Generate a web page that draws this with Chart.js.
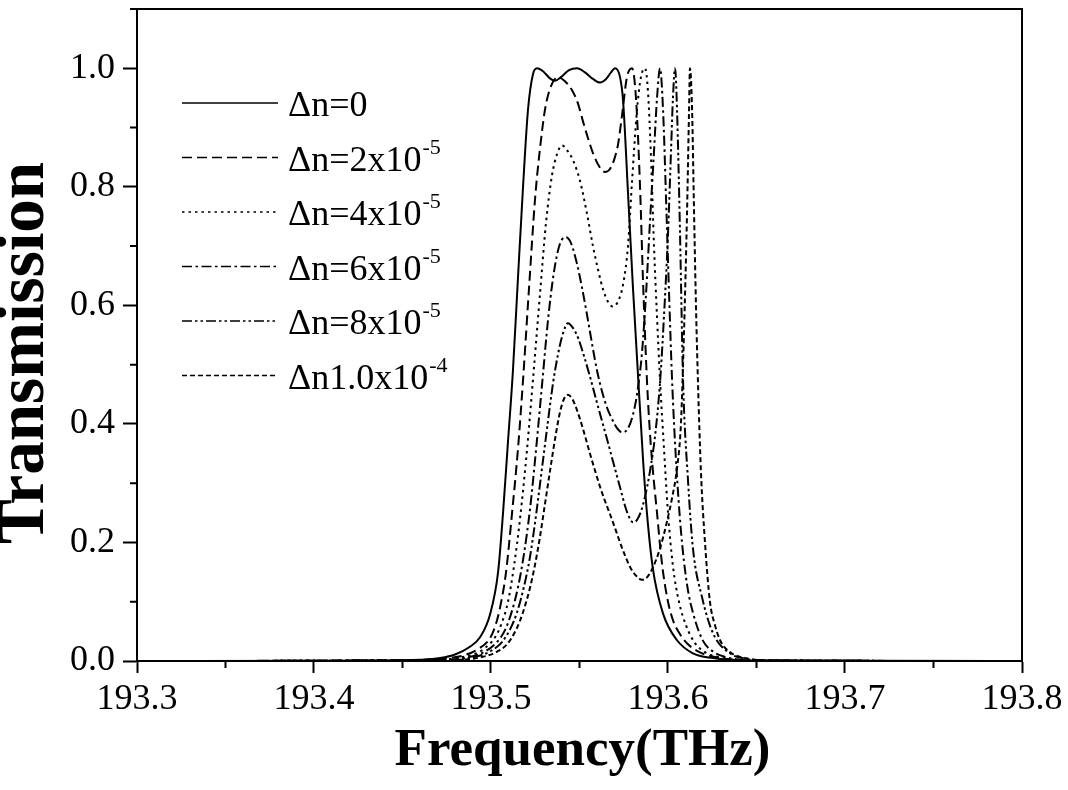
<!DOCTYPE html>
<html>
<head>
<meta charset="utf-8">
<script src="https://cdn.jsdelivr.net/npm/chart.js@4.4.0/dist/chart.umd.min.js"></script>
<style>
  html, body { margin: 0; padding: 0; background: #fff; }
  #wrap { width: 1068px; height: 790px; }
</style>
</head>
<body>
<div id="wrap"><canvas id="chart" width="1068" height="790"></canvas></div>
<script>
// Transmission curves: [frequency (THz), transmission]
const dn0 = [
    [193.30, 0], [193.44, 0.0005], [193.4599, 0.002], [193.4712, 0.005], [193.4797, 0.011],
    [193.4881, 0.024], [193.4938, 0.04], [193.4994, 0.078], [193.5040, 0.15], [193.5068, 0.25],
    [193.5096, 0.37], [193.5124, 0.49], [193.5153, 0.65], [193.5181, 0.80], [193.5209, 0.93],
    [193.5237, 0.99], [193.5260, 1.0], [193.5294, 0.995], [193.5333, 0.983], [193.5362, 0.979],
    [193.5395, 0.985], [193.5441, 0.997], [193.5486, 1.0], [193.5531, 0.993], [193.5576, 0.982],
    [193.5616, 0.976], [193.5650, 0.982], [193.5678, 0.993], [193.5701, 1.0], [193.5729, 0.985],
    [193.5746, 0.946], [193.5774, 0.79], [193.5802, 0.63], [193.5831, 0.48], [193.5859, 0.34],
    [193.5881, 0.25], [193.5915, 0.155], [193.5972, 0.08], [193.6051, 0.035], [193.6141, 0.013],
    [193.6254, 0.005], [193.6407, 0.001], [193.80, 0]
];
const dn2 = [
    [193.30, 0], [193.4655, 0.002], [193.4768, 0.005], [193.4853, 0.01], [193.4927, 0.02],
    [193.4989, 0.036], [193.5023, 0.058], [193.5051, 0.09], [193.5085, 0.15], [193.5119, 0.25],
    [193.5153, 0.36], [193.5181, 0.474], [193.5215, 0.63], [193.5249, 0.78], [193.5277, 0.865],
    [193.5305, 0.93], [193.5333, 0.965], [193.5379, 0.985], [193.5418, 0.978], [193.5458, 0.963],
    [193.5492, 0.94], [193.5520, 0.91], [193.5548, 0.882], [193.5576, 0.857], [193.5610, 0.835],
    [193.5644, 0.825], [193.5672, 0.83], [193.5695, 0.845], [193.5718, 0.872], [193.5740, 0.92],
    [193.5768, 0.985], [193.5797, 1.0], [193.5819, 0.95], [193.5842, 0.80], [193.5859, 0.64],
    [193.5881, 0.474], [193.5898, 0.385], [193.5915, 0.32], [193.5938, 0.25], [193.5955, 0.195],
    [193.5972, 0.15], [193.6000, 0.10], [193.6028, 0.069], [193.6068, 0.045], [193.6107, 0.03],
    [193.6164, 0.017], [193.6220, 0.01], [193.6322, 0.004], [193.6463, 0.001], [193.80, 0]
];
const dn4 = [
    [193.30, 0], [193.4712, 0.002], [193.4825, 0.006], [193.4910, 0.012], [193.4966, 0.022],
    [193.5023, 0.04], [193.5062, 0.065], [193.5096, 0.10], [193.5130, 0.16], [193.5164, 0.24],
    [193.5203, 0.355], [193.5237, 0.474], [193.5277, 0.62], [193.5311, 0.74], [193.5345, 0.82],
    [193.5373, 0.855], [193.5401, 0.87], [193.5429, 0.862], [193.5463, 0.845], [193.5503, 0.81],
    [193.5542, 0.755], [193.5576, 0.70], [193.5605, 0.66], [193.5633, 0.627], [193.5661, 0.606],
    [193.5689, 0.598], [193.5718, 0.607], [193.5746, 0.635], [193.5774, 0.70], [193.5797, 0.81],
    [193.5825, 0.93], [193.5847, 0.985], [193.5870, 1.0], [193.5887, 0.96], [193.5904, 0.85],
    [193.5921, 0.70], [193.5938, 0.58], [193.5955, 0.474], [193.5977, 0.36], [193.6000, 0.25],
    [193.6028, 0.16], [193.6062, 0.10], [193.6102, 0.06], [193.6153, 0.03], [193.6209, 0.015],
    [193.6294, 0.006], [193.6435, 0.001], [193.80, 0]
];
const dn6 = [
    [193.30, 0], [193.4768, 0.002], [193.4881, 0.007], [193.4966, 0.016], [193.5034, 0.032],
    [193.5079, 0.052], [193.5119, 0.085], [193.5153, 0.125], [193.5186, 0.18], [193.5220, 0.255],
    [193.5254, 0.355], [193.5288, 0.465], [193.5322, 0.575], [193.5350, 0.645], [193.5379, 0.693],
    [193.5401, 0.711], [193.5424, 0.715], [193.5452, 0.705], [193.5486, 0.67], [193.5514, 0.63],
    [193.5542, 0.585], [193.5571, 0.535], [193.5599, 0.49], [193.5627, 0.455], [193.5655, 0.428],
    [193.5684, 0.408], [193.5712, 0.393], [193.5740, 0.386], [193.5768, 0.39], [193.5797, 0.41],
    [193.5825, 0.45], [193.5853, 0.52], [193.5876, 0.62], [193.5898, 0.74], [193.5921, 0.86],
    [193.5938, 0.95], [193.5955, 1.0], [193.5972, 0.93], [193.5989, 0.78], [193.6006, 0.62],
    [193.6023, 0.474], [193.6045, 0.34], [193.6073, 0.22], [193.6107, 0.13], [193.6147, 0.075],
    [193.6198, 0.034], [193.6254, 0.016], [193.6322, 0.007], [193.6463, 0.001], [193.80, 0]
];
const dn8 = [
    [193.30, 0], [193.4797, 0.002], [193.4910, 0.007], [193.4994, 0.016], [193.5062, 0.032],
    [193.5107, 0.053], [193.5147, 0.082], [193.5186, 0.125], [193.5220, 0.175], [193.5254, 0.245],
    [193.5288, 0.325], [193.5322, 0.405], [193.5350, 0.468], [193.5379, 0.518], [193.5407, 0.553],
    [193.5435, 0.57], [193.5463, 0.562], [193.5492, 0.545], [193.5525, 0.515], [193.5559, 0.48],
    [193.5593, 0.442], [193.5627, 0.405], [193.5655, 0.375], [193.5689, 0.337], [193.5729, 0.293],
    [193.5757, 0.262], [193.5780, 0.243], [193.5802, 0.234], [193.5825, 0.238], [193.5847, 0.252],
    [193.5870, 0.277], [193.5898, 0.32], [193.5927, 0.38], [193.5955, 0.47], [193.5977, 0.58],
    [193.6000, 0.72], [193.6017, 0.86], [193.6028, 0.95], [193.6040, 1.0], [193.6051, 0.93],
    [193.6068, 0.72], [193.6085, 0.474], [193.6113, 0.305], [193.6141, 0.19], [193.6192, 0.108],
    [193.6254, 0.047], [193.6350, 0.013], [193.6463, 0.003], [193.6576, 0.001], [193.80, 0]
];
const dn10 = [
    [193.30, 0], [193.4825, 0.002], [193.4938, 0.006], [193.5023, 0.014], [193.5090, 0.028],
    [193.5130, 0.046], [193.5164, 0.068], [193.5192, 0.093], [193.5220, 0.123], [193.5249, 0.163],
    [193.5277, 0.21], [193.5305, 0.265], [193.5333, 0.32], [193.5362, 0.375], [193.5390, 0.42],
    [193.5412, 0.442], [193.5435, 0.449], [193.5463, 0.44], [193.5503, 0.408], [193.5531, 0.38],
    [193.5559, 0.35], [193.5588, 0.321], [193.5616, 0.294], [193.5644, 0.27], [193.5672, 0.248],
    [193.5701, 0.224], [193.5729, 0.2], [193.5757, 0.178], [193.5785, 0.159], [193.5819, 0.144],
    [193.5853, 0.137], [193.5881, 0.141], [193.5915, 0.158], [193.5955, 0.19], [193.5994, 0.235],
    [193.6023, 0.275], [193.6051, 0.325], [193.6073, 0.40], [193.6090, 0.55], [193.6107, 0.75],
    [193.6119, 0.93], [193.6124, 1.0], [193.6136, 0.93], [193.6147, 0.76], [193.6158, 0.6],
    [193.6169, 0.474], [193.6186, 0.32], [193.6209, 0.2], [193.6237, 0.1], [193.6266, 0.06],
    [193.6294, 0.035], [193.6350, 0.015], [193.6435, 0.005], [193.6576, 0.001], [193.80, 0]
];

const seriesNames = ['Δn=0', 'Δn=2x10', 'Δn=4x10', 'Δn=6x10', 'Δn=8x10', 'Δn1.0x10'];
const seriesExponents = ['', '-5', '-5', '-5', '-5', '-4'];

const serif = '"Liberation Serif", "Times New Roman", serif';

function toPoints(rows) {
    return rows.map(([x, y]) => ({ x: x, y: y }));
}

function makeDataset(i, rows, dash) {
    return {
        label: seriesNames[i] + seriesExponents[i],
        data: toPoints(rows),
        borderColor: '#000',
        borderWidth: 2,
        borderDash: dash,
        pointRadius: 0,
        fill: false,
        cubicInterpolationMode: 'monotone',
        showLine: true
    };
}

// frame, minor ticks, axis titles and the legend with superscripts
const decorPlugin = {
    id: 'decor',
    afterDraw(chart) {
        const ctx = chart.ctx;
        const area = chart.chartArea;
        const xs = chart.scales.x;
        const ys = chart.scales.y;
        ctx.save();
        ctx.strokeStyle = '#000';
        ctx.lineWidth = 2;
        ctx.setLineDash([]);
        ctx.beginPath();
        ctx.moveTo(area.left, area.top);
        ctx.lineTo(area.right, area.top);
        ctx.lineTo(area.right, area.bottom);
        ctx.stroke();

        // minor ticks halfway between the major ones
        const xt = xs.ticks.map(t => t.value);
        ctx.beginPath();
        for (let i = 0; i < xt.length - 1; i++) {
            const px = xs.getPixelForValue((xt[i] + xt[i + 1]) / 2);
            ctx.moveTo(px, area.bottom);
            ctx.lineTo(px, area.bottom + 7);
        }
        const yt = ys.ticks.map(t => t.value);
        const step = yt[1] - yt[0];
        for (let v = yt[0] + step / 2; v <= ys.max + 1e-9; v += step) {
            const py = ys.getPixelForValue(v);
            ctx.moveTo(area.left, py);
            ctx.lineTo(area.left - 7, py);
        }
        ctx.stroke();

        // axis titles
        ctx.fillStyle = '#000';
        ctx.font = 'bold 53px ' + serif;
        ctx.textAlign = 'center';
        ctx.textBaseline = 'alphabetic';
        ctx.fillText('Frequency(THz)', (area.left + area.right) / 2 + 3, 765);
        ctx.save();
        ctx.translate(43, (area.top + area.bottom) / 2 + 18);
        ctx.rotate(-Math.PI / 2);
        ctx.font = 'bold 67px ' + serif;
        ctx.fillText('Transmission', 0, 0);
        ctx.restore();

        // legend
        chart.data.datasets.forEach((ds, i) => {
            const y = 103 + i * 54.5;
            ctx.beginPath();
            ctx.lineWidth = 1.5;
            ctx.setLineDash(ds.borderDash || []);
            ctx.moveTo(182, y);
            ctx.lineTo(278, y);
            ctx.stroke();
            ctx.setLineDash([]);
            ctx.textAlign = 'left';
            ctx.font = '36px ' + serif;
            ctx.fillText(seriesNames[i], 288, y + 13);
            if (seriesExponents[i]) {
                const w = ctx.measureText(seriesNames[i]).width;
                ctx.font = '22px ' + serif;
                ctx.fillText(seriesExponents[i], 288 + w + 1, y - 4);
            }
        });
        ctx.restore();
    }
};

new Chart(document.getElementById('chart'), {
    type: 'scatter',
    data: {
        datasets: [
            makeDataset(0, dn0, []),
            makeDataset(1, dn2, [10, 5]),
            makeDataset(2, dn4, [2.5, 4]),
            makeDataset(3, dn6, [10, 3.5, 2.5, 3.5]),
            makeDataset(4, dn8, [10, 3, 2.5, 3, 2.5, 3]),
            makeDataset(5, dn10, [5, 3])
        ]
    },
    options: {
        responsive: false,
        animation: false,
        devicePixelRatio: 1,
        layout: { padding: { top: 9, right: 46, left: 0, bottom: 0 } },
        plugins: {
            legend: { display: false },
            tooltip: { enabled: false }
        },
        scales: {
            x: {
                type: 'linear',
                min: 193.3,
                max: 193.8,
                ticks: {
                    stepSize: 0.1,
                    includeBounds: false,
                    autoSkip: false,
                    maxRotation: 0,
                    padding: 5,
                    color: '#000',
                    font: { family: serif, size: 36 },
                    callback: v => v.toFixed(1)
                },
                grid: { drawOnChartArea: false, tickLength: 12, tickWidth: 2, tickColor: '#000' },
                border: { color: '#000', width: 2 },
                afterFit: s => { s.height = 129; s.paddingLeft = 0; s.paddingRight = 0; }
            },
            y: {
                min: 0,
                max: 1.1,
                ticks: {
                    stepSize: 0.2,
                    includeBounds: false,
                    padding: 8,
                    color: '#000',
                    font: { family: serif, size: 36 },
                    callback: v => v.toFixed(1)
                },
                grid: { drawOnChartArea: false, tickLength: 14, tickWidth: 2, tickColor: '#000' },
                border: { color: '#000', width: 2 },
                afterFit: s => { s.width = 137; s.paddingTop = 0; s.paddingBottom = 0; }
            }
        }
    },
    plugins: [decorPlugin]
});
</script>
</body>
</html>
